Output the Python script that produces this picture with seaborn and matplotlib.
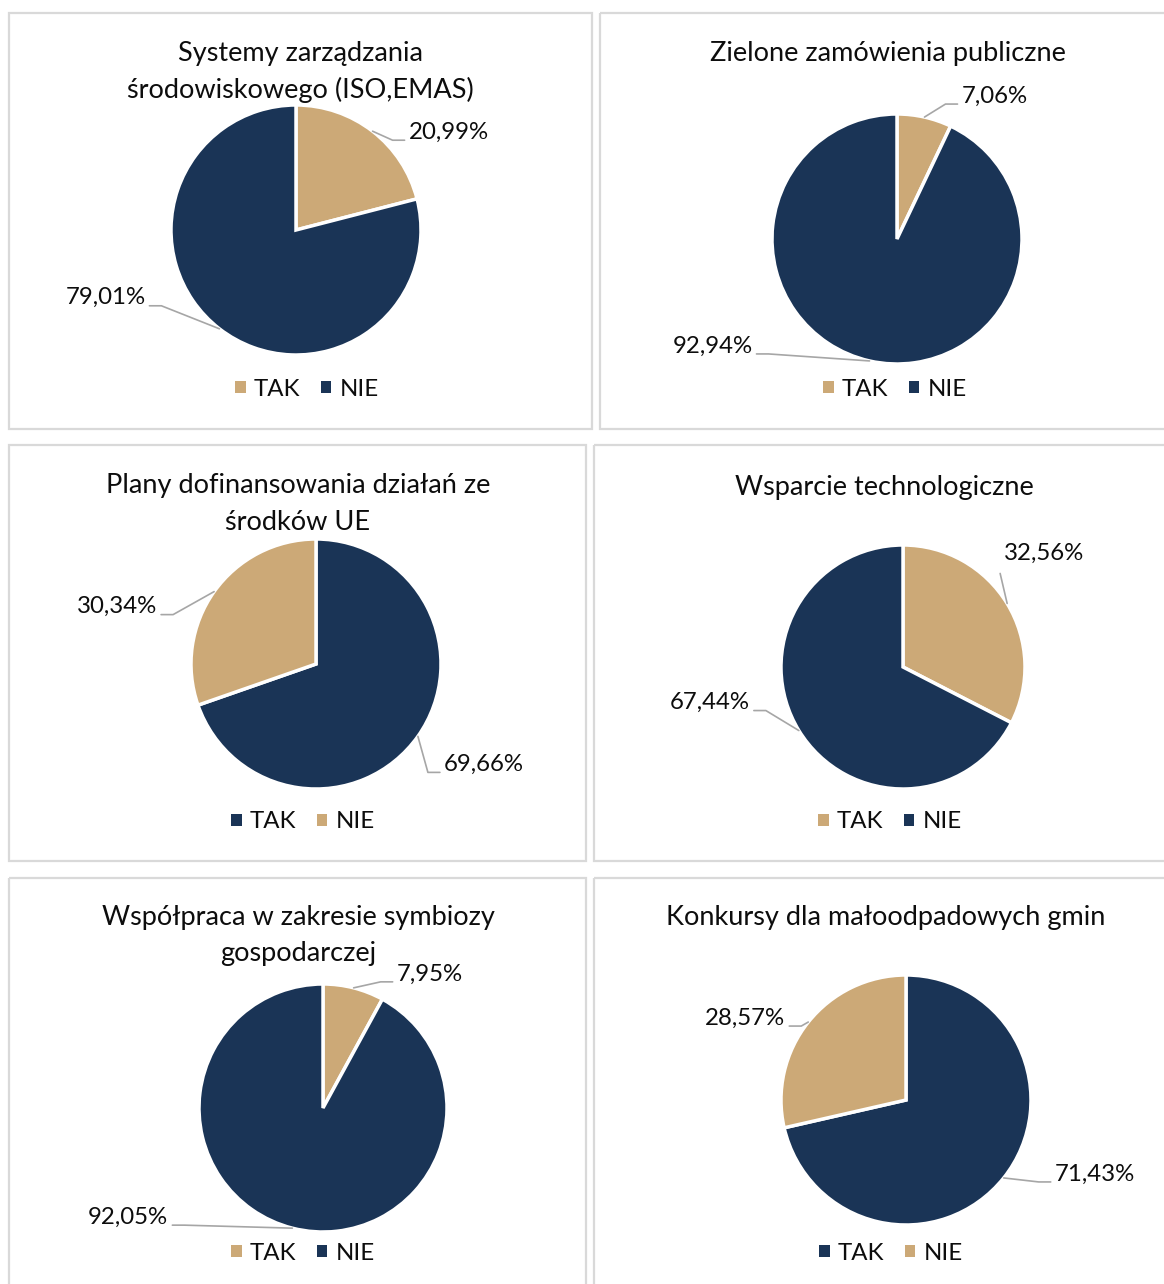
import numpy as np
import matplotlib.pyplot as plt
import seaborn as sns
from matplotlib.patches import Rectangle, Patch

# -------------------------------
# data
# -------------------------------
categories = ["TAK", "NIE"]
titles = [
    "Systemy zarządzania\nśrodowiskowego (ISO,EMAS)",
    "Zielone zamówienia publiczne",
    "Plany dofinansowania działań ze\nśrodków UE",
    "Wsparcie technologiczne",
    "Współpraca w zakresie symbiozy\ngospodarczej",
    "Konkursy dla małoodpadowych gmin",
]
tak_values = [20.99, 7.06, 69.66, 32.56, 7.95, 71.43]
nie_values = [79.01, 92.94, 30.34, 67.44, 92.05, 28.57]

# -------------------------------
# style / layout (pixels, y from top)
# -------------------------------
W, H = 1164, 1284
tan = "#CCA977"
navy = "#1A3456"
# panels 3 and 6 use swapped colours in the original
swap = [False, False, True, False, False, True]

panels = [(9, 13, 592, 429), (600, 13, 1175, 429),
          (9, 445, 586, 861), (594, 445, 1175, 861),
          (9, 878, 586, 1295), (594, 878, 1175, 1295)]
pie_xy = [(296, 230, 125), (897, 239, 125), (316, 664, 125),
          (903, 667, 122), (323, 1108, 124), (906, 1100, 125)]
# centre of the first title line
title_xy = [(300, 54), (888, 54), (298, 486), (884, 487), (298, 918), (886, 918)]
title_step = 36
legend_xy = [(307, 389), (895, 389), (303, 822), (890, 822), (303, 1253), (891, 1253)]
# label offset from slice anchor on the rim: (dx, dy, ha, leader kind)
label_off = [
    [(36, 1, "left", "h"), (-74, -31, "right", "h")],
    [(37, -21, "left", "h"), (-117, -15, "right", "h")],
    [(26, 28, "left", "h"), (-57, 15, "right", "h")],
    [(-3, -50, "left", "v"), (-49, -28, "right", "h")],
    [(43, -14, "left", "h"), (-124, -11, "right", "h")],
    [(51, -4, "left", "h"), (-23, -4, "right", "h")],
]

sns.set_theme(style="white")
plt.rcParams["font.family"] = ["Lato", "DejaVu Sans"]

fig = plt.figure(figsize=(W / 100, H / 100), dpi=100)
over = fig.add_axes([0, 0, 1, 1])
over.set_xlim(0, W)
over.set_ylim(H, 0)
over.axis("off")
over.set_zorder(5)

title_fs = 19.5
label_fs = 17.3

for i in range(6):
    x0, y0, x1, y1 = panels[i]
    over.add_patch(Rectangle((x0, y0), x1 - x0, y1 - y0, fill=False,
                             edgecolor="#D9D9D9", linewidth=1.6))

    cols = [navy, tan] if swap[i] else [tan, navy]
    vals = [tak_values[i], nie_values[i]]
    cx, cy, r = pie_xy[i]
    ax = fig.add_axes([(cx - r) / W, 1 - (cy + r) / H, 2 * r / W, 2 * r / H])
    ax.pie(vals, colors=cols, startangle=90, counterclock=False,
           wedgeprops=dict(edgecolor="white", linewidth=2.5))
    ax.set_xlim(-1, 1)
    ax.set_ylim(-1, 1)
    ax.set_aspect("equal")
    ax.axis("off")

    # title, one text per line
    tx, ty = title_xy[i]
    for k, line in enumerate(titles[i].split("\n")):
        over.text(tx, ty + k * title_step, line, ha="center", va="center",
                  fontsize=title_fs, color="#0D0D0D")

    # data labels with leader lines
    cum = 0.0
    for j, v in enumerate(vals):
        mid = np.deg2rad(90 - 3.6 * (cum + v / 2))
        cum += v
        axp, ayp = cx + r * np.cos(mid), cy - r * np.sin(mid)
        dx, dy, ha, kind = label_off[i][j]
        lx, ly = axp + dx, ayp + dy
        sgn = 1 if ha == "left" else -1
        over.text(lx, ly, f"{v:.2f}%".replace(".", ","), ha=ha, va="center",
                  fontsize=label_fs, color="#0D0D0D")
        if kind == "h":
            xs = [axp, lx - sgn * 16, lx - sgn * 4]
            ys = [ayp, ly + 8, ly + 8]
        else:
            xs = [axp, lx - 4]
            ys = [ayp, ly + 20]
        over.plot(xs, ys, color="#A6A6A6", linewidth=1.2)

    handles = [Patch(facecolor=c, edgecolor="none") for c in cols]
    lx, ly = legend_xy[i]
    fig.legend(handles, categories, loc="center",
               bbox_to_anchor=(lx / W, 1 - ly / H), ncol=2, frameon=False,
               fontsize=label_fs, handlelength=0.42, handleheight=0.42,
               handletextpad=0.35, columnspacing=0.85, labelcolor="#0D0D0D")

fig.savefig("out.png", dpi=100, facecolor="white")
